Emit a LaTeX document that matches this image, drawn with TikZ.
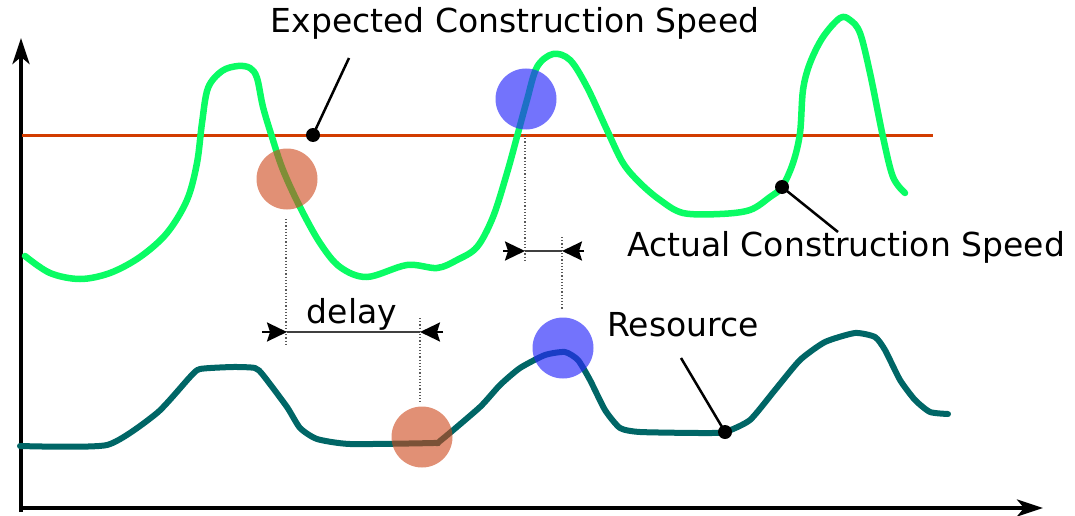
\documentclass[tikz,border=0pt]{standalone}
\usepackage{fontspec}
\setmainfont{DejaVu Sans}
\usetikzlibrary{arrows.meta}
\definecolor{speedgreen}{RGB}{10,252,100}
\definecolor{restea}{RGB}{0,102,102}
\definecolor{expred}{RGB}{210,60,0}
\definecolor{circorange}{RGB}{205,70,25}
\definecolor{circblue}{RGB}{40,40,250}
\tikzset{
  axisline/.style={line width=4pt,-{Stealth[length=26pt,width=17pt,inset=7pt]}},
  greencurve/.style={speedgreen,line width=6.5pt,line cap=round,line join=round},
  tealcurve/.style={restea,line width=6pt,line cap=round,line join=round},
  orangedot/.style={circle,fill=circorange,fill opacity=0.6,minimum size=61pt,inner sep=0pt},
  bluedot/.style={circle,fill=circblue,fill opacity=0.65,minimum size=61pt,inner sep=0pt},
  guide/.style={gray!70!black,line width=1.2pt,dotted},
  pin/.style={circle,fill=black,minimum size=14pt,inner sep=0pt},
  pinline/.style={black,line width=2.5pt},
  lbl/.style={font=\fontsize{33}{38}\selectfont,inner sep=0pt,anchor=base},
  measure/.style={line width=2.5pt,-{Stealth[length=20pt,width=19pt,inset=3pt]}},
  measureplain/.style={line width=2pt,black!75}
}
\begin{document}
\begin{tikzpicture}[x=1pt,y=-1pt]
\useasboundingbox (0,0) rectangle (1075,516);
% axes
\coordinate (ytip) at (21,38);
\coordinate (xtip) at (1043,508);
\coordinate (ybot) at (21,512);
\coordinate (xbeg) at (19,508);
\draw[axisline] (ybot) -- (ytip);
\draw[axisline] (xbeg) -- (xtip);
% expected speed line
\coordinate (red1) at (22,135);
\coordinate (red2) at (933,135);
\draw[expred,line width=3pt] (red1) -- (red2);
% green curve
\draw[greencurve] plot[smooth,tension=0.55] coordinates {
(25,256) (50,273) (80,279) (110,273) (140,257) (167,233) (187,200) (197,163)
(202,123) (208,88) (222,71) (238,66) (250,68) (257,78) (263,107) (272,137)
(283,170) (300,207) (320,243) (340,267) (367,277) (407,265) (437,268) (457,260)
(477,247) (493,217) (507,173) (518,133) (527,100) (537,67) (553,54) (570,60)
(587,87) (607,130) (623,163) (640,183) (660,200) (683,213) (720,214) (750,210)
(770,197) (782,187) (793,163) (800,133) (803,90) (810,63) (823,37) (840,18)
(850,20) (860,33) (870,73) (883,137) (893,177) (905,193)};
% teal curve
\draw[tealcurve] plot[smooth,tension=0.35] coordinates {
(20,446) (107,445) (157,413) (190,377) (200,369) (233,367) (255,368) (263,375)
(287,407) (300,428) (317,439) (350,444) (433,443) (440,441) (480,407) (500,385)
(520,368) (545,355) (565,352) (578,360) (590,380) (605,410) (620,428) (640,432)
(700,433) (725,432) (750,420) (775,390) (800,360) (825,342) (855,333) (875,337)
(885,350) (900,380) (915,400) (930,412) (948,414)};
% circles
\node[orangedot] (oc1) at (287,179) {};
\node[orangedot] (oc2) at (422,437) {};
\node[bluedot] (bc1) at (526,99) {};
\node[bluedot] (bc2) at (563,348) {};
% dotted guides
\coordinate (g1a) at (286,219);
\coordinate (g1b) at (286,344);
\coordinate (g2a) at (420,318);
\coordinate (g2b) at (420,402);
\coordinate (g3a) at (525,135);
\coordinate (g3b) at (525,262);
\coordinate (g4a) at (562,237);
\coordinate (g4b) at (562,309);
\draw[guide] (g1a) -- (g1b);
\draw[guide] (g2a) -- (g2b);
\draw[guide] (g3a) -- (g3b);
\draw[guide] (g4a) -- (g4b);
% delay measure
\coordinate (d0) at (262,332);
\coordinate (d1) at (287,332);
\coordinate (d2) at (420,332);
\coordinate (d3) at (443,332);
\draw[measureplain] (d1) -- (d2);
\draw[measure] (d0) -- (d1);
\draw[measure] (d3) -- (d2);
\node[lbl] (delay) at (352,323) {delay};
% second measure
\coordinate (e0) at (503,251);
\coordinate (e1) at (525,251);
\coordinate (e2) at (562,251);
\coordinate (e3) at (584,251);
\draw[measureplain] (e1) -- (e2);
\draw[measure] (e0) -- (e1);
\draw[measure] (e3) -- (e2);
% labels with pins
\node[lbl] (exp) at (515,33) {Expected Construction Speed};
\node[pin] (p1) at (313,135) {};
\coordinate (p1e) at (349,58);
\draw[pinline] (p1.center) -- (p1e);
\node[lbl] (act) at (846,256) {Actual Construction Speed};
\node[pin] (p2) at (782,187) {};
\coordinate (p2e) at (838,232);
\draw[pinline] (p2.center) -- (p2e);
\node[lbl] (res) at (683,336) {Resource};
\node[pin] (p3) at (725,432) {};
\coordinate (p3e) at (681,358);
\draw[pinline] (p3.center) -- (p3e);
\end{tikzpicture}
\end{document}
